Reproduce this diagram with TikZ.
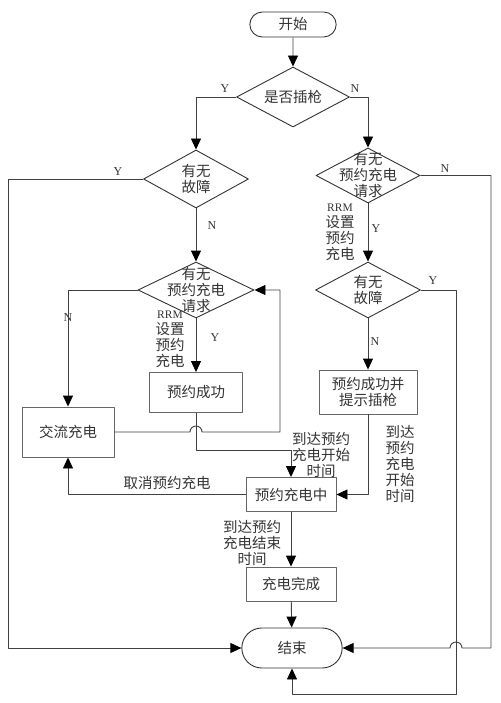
\documentclass[tikz,border=0pt]{standalone}
\usepackage{fontspec}
\setmainfont{Liberation Serif}
\newfontfamily\cjk{Noto Sans CJK SC}
\usetikzlibrary{shapes.geometric,shapes.misc,arrows.meta}
\begin{document}
\begin{tikzpicture}[x=1pt,y=-1pt,join=round, %charging reservation flow
  line/.style={draw=black!75,line width=0.9pt},
  flow/.style={line,-{Triangle[length=11pt,width=10pt,color=black]}},
  term/.style={rounded rectangle,draw=black!80,line width=0.9pt,font=\cjk\fontsize{14.5}{16}\selectfont,text=black!80},
  box/.style={rectangle,draw=black!60,line width=0.9pt,font=\cjk\fontsize{14.5}{16}\selectfont,text=black!80,align=center},
  decision/.style={diamond,draw=black!80,line width=0.9pt,inner sep=0pt},
  txt/.style={font=\cjk\fontsize{14.5}{16}\selectfont,text=black!80,align=center,inner sep=0pt},
  yn/.style={font=\fontsize{12}{13}\selectfont,text=black!80,inner sep=0pt}]
  \useasboundingbox (0,0) rectangle (500,703);
  \node[term,minimum width=93pt,minimum height=25pt] (start) at (293,24.5) {开始};
  \node[decision,minimum width=113pt,minimum height=60pt,label={[txt]center:是否插枪}] (d0) at (293,97) {};
  \node[decision,minimum width=105pt,minimum height=58pt,label={[txt]center:{有无\\故障}}] (f1) at (196,179) {};
  \node[decision,minimum width=104pt,minimum height=55pt,label={[txt]center:{有无\\预约充电\\请求}}] (r1) at (368,175.5) {};
  \node[decision,minimum width=105pt,minimum height=56pt,label={[txt]center:{有无\\故障}}] (r2) at (368,290) {};
  \node[decision,minimum width=116pt,minimum height=56pt,label={[txt]center:{有无\\预约充电\\请求}}] (q2) at (196,290) {};
  \node[box,minimum width=93pt,minimum height=40pt] (ok1) at (196,392.5) {预约成功};
  \node[box,minimum width=98pt,minimum height=44pt] (ok2) at (368,392) {预约成功并\\提示插枪};
  \node[box,minimum width=92pt,minimum height=50pt] (ac) at (68,432) {交流充电};
  \node[box,minimum width=90pt,minimum height=34pt] (ing) at (291,494.5) {预约充电中};
  \node[box,minimum width=90pt,minimum height=34pt] (done) at (291,584) {充电完成};
  \node[term,minimum width=107pt,minimum height=40pt] (end) at (292,648) {结束};
  % branch labels
  \node[yn] (d0y) at (225,89) {Y};
  \node[yn] (d0n) at (355,89) {N};
  \node[yn] (f1y) at (118,172) {Y};
  \node[yn] (f1n) at (212,226) {N};
  \node[yn] (r1n) at (445,169) {N};
  \node[yn] (r1y) at (376,229) {Y};
  \node[yn] (r2y) at (433,281) {Y};
  \node[yn] (r2n) at (375,342) {N};
  \node[yn] (q2n) at (68,318) {N};
  \node[yn] (q2y) at (215,338) {Y};
  \node[txt] (r1rrm) at (340,232) {{\rmfamily\fontsize{11.5}{16}\selectfont RRM}\\设置\\预约\\充电};
  \node[txt] (q2rrm) at (170,339) {{\rmfamily\fontsize{11.5}{16}\selectfont RRM}\\设置\\预约\\充电};
  \node[txt] (t1) at (321,455) {到达预约\\充电开始\\时间};
  \node[txt] (t2) at (400,464) {到达\\预约\\充电\\开始\\时间};
  \node[txt] (t3) at (167,483) {取消预约充电};
  \node[txt] (t4) at (252,543) {到达预约\\充电结束\\时间};
  % connectors
  \draw[flow] (start) -- (d0);
  \draw[flow] (d0.west) -| (f1.north);
  \draw[flow] (d0.east) -| (r1.north);
  \draw[flow] (f1.west) -| (8,648) -- (end.west);
  \draw[flow] (f1.south) -- (q2.north);
  \draw[flow] (r1.east) -| (491,648) -- (462,648) arc (0:-180:6) -- (end.east);
  \draw[flow] (r1.south) -- (r2.north);
  \draw[flow] (r2.east) -| (456,694) -| (end.south);
  \draw[flow] (r2.south) -- (ok2.north);
  \draw[flow] (ok2.south) |- (ing.east);
  \draw[flow] (q2.west) -| (ac.north);
  \draw[flow] (q2.south) -- (ok1.north);
  \draw[flow] (ac.east) -- (190,432) arc (180:360:6) -- (280,432) |- (q2.east);
  \draw[flow] (ok1.south) -- (196,450) -| (ing.north);
  \draw[flow] (ing.west) -| (ac.south);
  \draw[flow] (ing) -- (done);
  \draw[flow] (done) -- (end);
\end{tikzpicture}
\end{document}
